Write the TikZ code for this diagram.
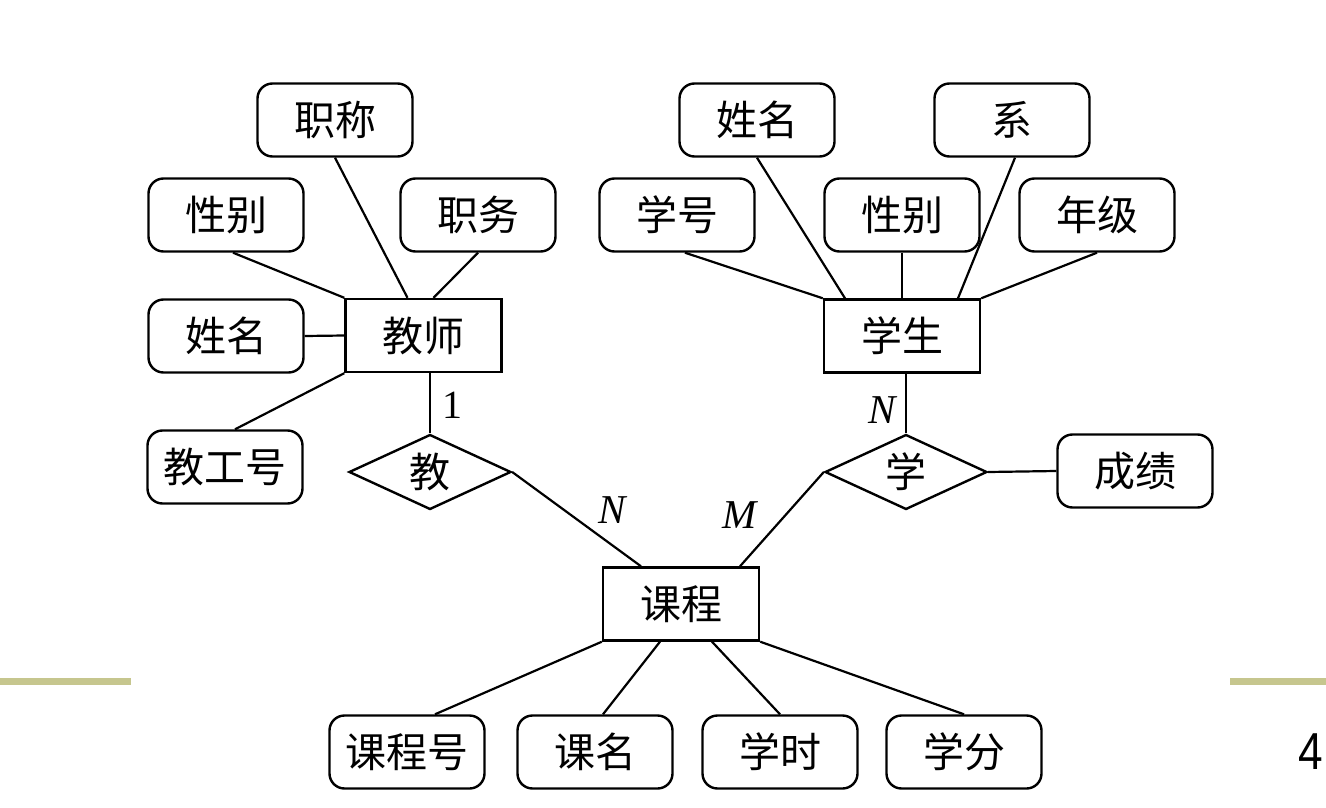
\documentclass[tikz,border=0pt]{standalone}
\usepackage{fontspec}
\setmainfont{Liberation Serif}
\newfontfamily\cjk{Noto Sans CJK SC}
\newfontfamily\sansf{Liberation Sans}
\usetikzlibrary{shapes.geometric}
\definecolor{olivebar}{RGB}{198,198,142}
\begin{document}
\begin{tikzpicture}[x=1pt,y=-1pt,
  cjkfont/.style={font=\cjk\fontsize{41}{45}\selectfont},
  attr/.style={draw, line width=2.4pt, rounded corners=15pt, minimum width=155pt, minimum height=73pt, inner sep=0pt, cjkfont},
  ent/.style={draw, line width=2.4pt, minimum width=156pt, minimum height=73pt, inner sep=0pt, cjkfont},
  rel/.style={draw, diamond, line width=2.4pt, aspect=2.17, minimum width=162pt, minimum height=75pt, inner sep=0pt, cjkfont},
  conn/.style={line width=2.2pt},
  card/.style={font=\fontsize{41}{45}\selectfont\itshape, inner sep=0pt},
  cardup/.style={font=\fontsize{40}{44}\selectfont, inner sep=0pt},
]
\useasboundingbox (0,0) rectangle (1326,808);
\fill[white] (0,0) rectangle (1326,808);

% olive bars and page number
\fill[olivebar] (0,678) rectangle (131,685);
\fill[olivebar] (1230,678) rectangle (1326,685);
\node[font=\sansf\fontsize{52}{56}\selectfont, inner sep=0pt, xscale=0.85] (pg) at (1311,752) {4};

% teacher side
\node[ent]  (T)   at (423.5,335.5) {教师};
\node[attr] (zc)  at (335,120) {职称};
\node[attr] (xb)  at (226,215) {性别};
\node[attr] (zw)  at (478,215) {职务};
\node[attr] (xm)  at (226,336) {姓名};
\node[attr] (jgh) at (225,467) {教工号};
\node[rel]  (jiao) at (430,472) {教};

% student side
\node[ent]  (S)   at (902,336) {学生};
\node[attr] (xm2) at (757,120) {姓名};
\node[attr] (xi)  at (1012,120) {系};
\node[attr] (xh)  at (677,215) {学号};
\node[attr] (xb2) at (902,215) {性别};
\node[attr] (nj)  at (1097,215) {年级};
\node[rel]  (xue) at (906,472) {学};
\node[attr] (cj)  at (1135,471) {成绩};

% course
\node[ent]  (kc)  at (681,604) {课程};
\node[attr] (kch) at (407,752) {课程号};
\node[attr] (km)  at (595,752) {课名};
\node[attr] (xs)  at (780,752) {学时};
\node[attr] (xf)  at (964,752) {学分};

% cardinalities
\node[cardup] (c1) at (452,405) {1};
\node[card] (c2) at (612,510) {N};
\node[card] (c3) at (740,515) {M};
\node[card] (c4) at (882,410) {N};

% teacher connectors
\draw[conn] (zc.south) -- ([xshift=-16pt]T.north);
\draw[conn] ([xshift=7pt]xb.south) -- (T.north west);
\draw[conn] (zw.south) -- ([xshift=10pt]T.north);
\draw[conn] (xm.east) -- (T.west);
\draw[conn] ([xshift=10pt]jgh.north) -- (T.south west);
\draw[conn] ([xshift=6.5pt]T.south) -- (jiao.north);
\draw[conn] (jiao.east) -- ([xshift=-40pt]kc.north);

% student connectors
\draw[conn] ([xshift=8pt]xh.south) -- (S.north west);
\draw[conn] (xm2.south) -- ([xshift=-57pt]S.north);
\draw[conn] (xb2.south) -- (S.north);
\draw[conn] ([xshift=3pt]xi.south) -- ([xshift=56pt]S.north);
\draw[conn] (nj.south) -- (S.north east);
\draw[conn] ([xshift=4pt]S.south) -- (xue.north);
\draw[conn] (xue.east) -- (cj.west);
\draw[conn] (xue.west) -- ([xshift=59pt]kc.north);

% course connectors
\draw[conn] (kc.south west) -- ([xshift=28pt]kch.north);
\draw[conn] ([xshift=-21pt]kc.south) -- ([xshift=8pt]km.north);
\draw[conn] ([xshift=31pt]kc.south) -- (xs.north);
\draw[conn] (kc.south east) -- (xf.north);
\end{tikzpicture}
\end{document}
